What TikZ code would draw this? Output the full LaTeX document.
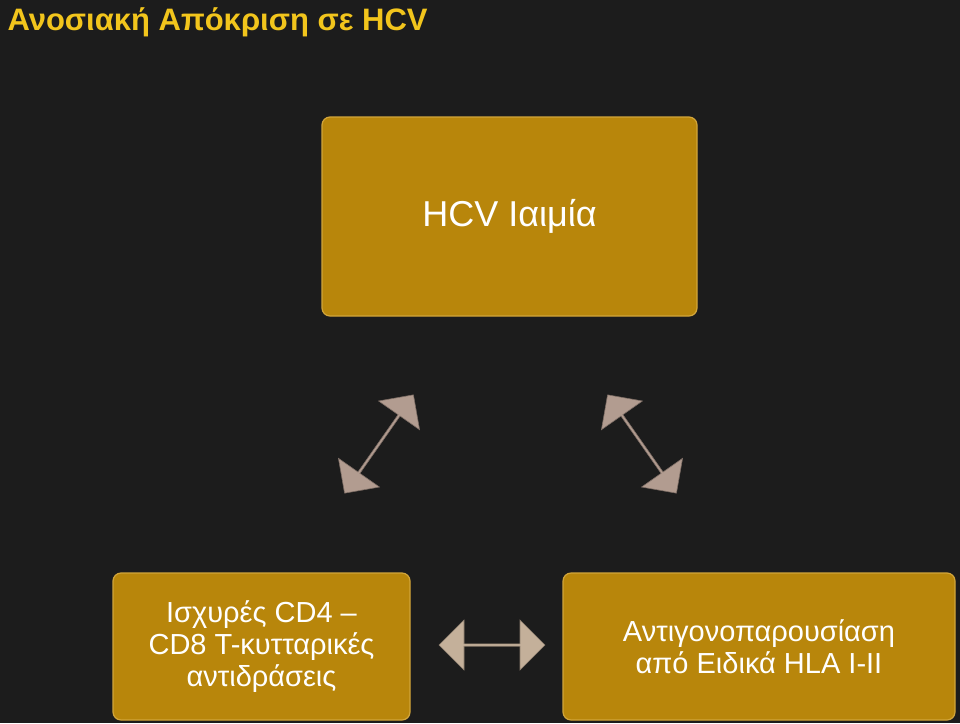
\documentclass[tikz,border=0pt]{standalone}
\usepackage{fontspec}
\setmainfont{Liberation Sans}
\usetikzlibrary{shapes.arrows}
\definecolor{bg}{HTML}{1C1C1C}
\definecolor{gold}{HTML}{B8860B}
\definecolor{goldedge}{HTML}{D2A53A}
\definecolor{titlecol}{HTML}{F2C51C}
\definecolor{arrA}{HTML}{B29C90}
\definecolor{arrB}{HTML}{C4B09A}
\tikzset{
  box/.style={draw=goldedge, line width=1.2pt, fill=gold, rounded corners=8pt, text=white, align=center, inner sep=0pt},
  darr/.style={double arrow, draw=arrA!70!black, line width=0.6pt, fill=arrA, minimum height=#1, minimum width=50pt, double arrow head extend=6pt, inner sep=0pt},
}
\begin{document}
\begin{tikzpicture}[x=1pt,y=-1pt]
\fill[bg] (0,0) rectangle (960,723);
\useasboundingbox (0,0) rectangle (960,723);
\node[anchor=west, text=titlecol, font=\bfseries\fontsize{31}{36}\selectfont] (title) at (4,22) {Ανοσιακή Απόκριση σε HCV};
\node[box, minimum width=375pt, minimum height=199pt, font=\fontsize{36}{42}\selectfont] (top) at (509.5,216.5) {HCV Ιαιμία};
\node[box, minimum width=297pt, minimum height=147pt, font=\fontsize{29}{32}\selectfont] (bl) at (261.5,646.5) {Ισχυρές CD4 --\\CD8 T-κυτταρικές\\αντιδράσεις};
\node[box, minimum width=392pt, minimum height=147pt, font=\fontsize{29}{32}\selectfont] (br) at (759,646.5) {Αντιγονοπαρουσίαση\\από Ειδικά HLA I-II};
\node[darr=120pt, rotate=55] (a1) at (379,444) {};
\node[darr=120pt, rotate=-55] (a2) at (642,444) {};
\node[darr=106pt, fill=arrB, draw=arrB!70!black] (a3) at (492,645) {};
\end{tikzpicture}
\end{document}
